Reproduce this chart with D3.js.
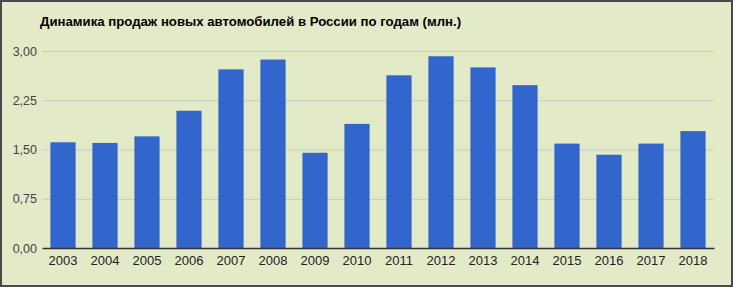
<!DOCTYPE html>
<html>
<head>
<meta charset="utf-8">
<script src="https://cdn.jsdelivr.net/npm/d3@7"></script>
<style>
  body { margin: 0; background: #e2eac8; }
  svg { display: block; font-family: Arial, "Liberation Sans", sans-serif; }
</style>
</head>
<body>
<div class="chart"></div>
<script>
var years = ["2003", "2004", "2005", "2006", "2007", "2008", "2009", "2010",
             "2011", "2012", "2013", "2014", "2015", "2016", "2017", "2018"];
var sales = [1.61, 1.60, 1.70, 2.09, 2.72, 2.87, 1.45, 1.89,
             2.63, 2.92, 2.75, 2.48, 1.59, 1.42, 1.59, 1.78];
var yTicks = [0, 0.75, 1.5, 2.25, 3.0];
var title = "Динамика продаж новых автомобилей в России по годам (млн.)";

var W = 733, H = 287;
var margin = { top: 51, right: 19, bottom: 39, left: 42 },
    width = W - margin.left - margin.right,
    height = H - margin.top - margin.bottom;

var svg = d3.select(".chart").append("svg")
    .attr("width", W)
    .attr("height", H);

svg.append("rect")
    .attr("x", 1).attr("y", 1)
    .attr("width", W - 2).attr("height", H - 2)
    .attr("fill", "#e2eac8")
    .attr("stroke", "#4a4a4a")
    .attr("stroke-width", 2);

svg.append("text")
    .attr("x", 40).attr("y", 26)
    .attr("font-size", 13.2)
    .attr("font-weight", "bold")
    .attr("fill", "#000")
    .text(title);

var g = svg.append("g")
    .attr("transform", "translate(" + margin.left + "," + margin.top + ")");

var x = d3.scaleBand().domain(years).range([0, width]).paddingInner(0.4).paddingOuter(0.2);
var y = d3.scaleLinear().domain([0, 3]).range([height, 0]);
var fmt = function(d) { return d3.format(".2f")(d).replace(".", ","); };

// grid
g.selectAll(".grid")
  .data(yTicks.filter(function(d) { return d > 0; }))
  .enter().append("line")
    .attr("x1", 0).attr("x2", width)
    .attr("y1", function(d) { return y(d) + 0.5; })
    .attr("y2", function(d) { return y(d) + 0.5; })
    .attr("stroke", "#c8c8c8")
    .attr("stroke-width", 1);

var yAxis = g.append("g")
    .call(d3.axisLeft(y).tickValues(yTicks).tickFormat(fmt).tickSize(0).tickPadding(5));
yAxis.select(".domain").remove();
yAxis.selectAll("text").attr("font-size", 12.5).attr("fill", "#444").attr("font-family", null);

g.selectAll(".bar")
  .data(sales)
  .enter().append("rect")
    .attr("class", "bar")
    .attr("x", function(d, i) { return x(years[i]); })
    .attr("y", function(d) { return y(d); })
    .attr("width", x.bandwidth())
    .attr("height", function(d) { return height - y(d); })
    .attr("fill", "#3366cc");

var xAxis = g.append("g")
    .attr("transform", "translate(0," + height + ")")
    .call(d3.axisBottom(x).tickSize(0).tickPadding(8));
xAxis.select(".domain").attr("stroke", "#333").attr("stroke-width", 1.5);
xAxis.selectAll("text").attr("font-size", 13).attr("fill", "#222").attr("font-family", null);
</script>
</body>
</html>
